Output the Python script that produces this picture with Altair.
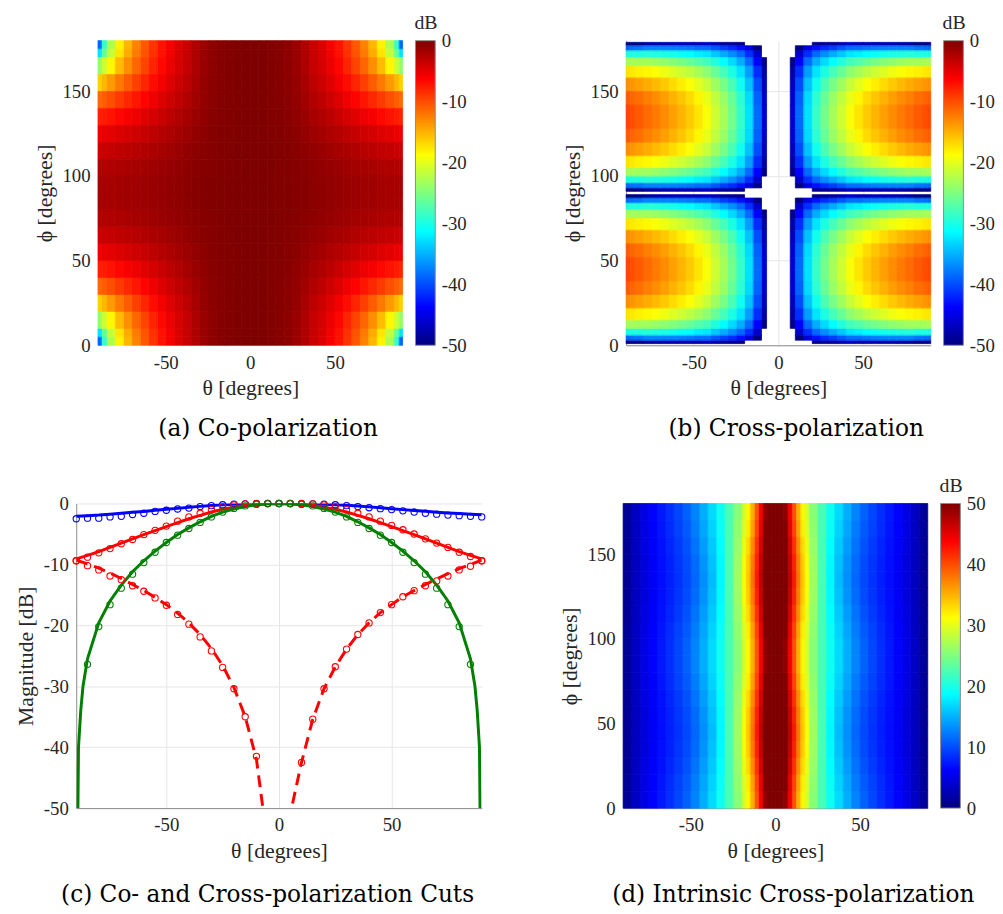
import altair as alt
import pandas as pd

# MATLAB "jet" colour stops
JET = ["#00007F", "#0000FF", "#007FFF", "#00FFFF", "#7FFF7F",
       "#FFFF00", "#FF7F00", "#FF0000", "#7F0000"]

# ---------------- (a) Co-polarization [dB] ----------------
# values read for one quadrant (0<=theta<=90, 0<=phi<=90); the map is mirror
# symmetric in theta and about phi = 90 deg.
CO_THETA_EDGES = [0, 5, 10, 15, 20, 25, 30, 35, 40, 45, 50, 55, 60, 65, 70, 75, 80, 85, 88, 90]
CO_PHI_EDGES = [0, 5, 10, 20, 30, 40, 50, 60, 70, 80, 90]
CO_DB = [
    [-0.01, -0.05, -0.2, -0.4, -0.75, -1.4, -2.4, -3.6, -4.6, -5.8, -7.2, -8.8, -10.6, -12.7, -15.2, -18.2, -22.8, -28.7, -38.8],
    [-0.01, -0.05, -0.2, -0.39, -0.74, -1.38, -2.36, -3.53, -4.51, -5.69, -7.03, -8.59, -10.33, -12.31, -14.66, -17.46, -21.6, -26.3, -32.6],
    [-0.01, -0.05, -0.19, -0.38, -0.71, -1.32, -2.25, -3.35, -4.28, -5.37, -6.61, -8.02, -9.56, -11.28, -13.23, -15.46, -18.4, -21.25, -24.1],
    [-0.01, -0.05, -0.18, -0.35, -0.65, -1.19, -2.0, -2.97, -3.77, -4.69, -5.73, -6.86, -8.06, -9.35, -10.71, -12.17, -13.87, -15.3, -16.5],
    [-0.01, -0.04, -0.16, -0.31, -0.57, -1.02, -1.69, -2.47, -3.14, -3.86, -4.66, -5.51, -6.38, -7.28, -8.17, -9.09, -10.08, -10.85, -11.44],
    [0.0, -0.03, -0.13, -0.26, -0.47, -0.83, -1.34, -1.94, -2.46, -3.0, -3.59, -4.19, -4.8, -5.41, -5.97, -6.56, -7.14, -7.59, -7.92],
    [0.0, -0.03, -0.11, -0.21, -0.38, -0.65, -1.01, -1.44, -1.84, -2.23, -2.64, -3.05, -3.46, -3.87, -4.22, -4.6, -4.95, -5.23, -5.41],
    [0.0, -0.02, -0.09, -0.17, -0.3, -0.49, -0.72, -1.02, -1.33, -1.59, -1.88, -2.16, -2.43, -2.71, -2.92, -3.18, -3.4, -3.58, -3.69],
    [0.0, -0.02, -0.07, -0.14, -0.24, -0.37, -0.52, -0.72, -0.96, -1.15, -1.35, -1.55, -1.74, -1.94, -2.07, -2.25, -2.4, -2.52, -2.6],
    [0.0, -0.02, -0.06, -0.12, -0.2, -0.3, -0.41, -0.57, -0.78, -0.93, -1.09, -1.25, -1.41, -1.57, -1.68, -1.84, -1.95, -2.01, -2.07],
]

# ---------------- (b) Cross-polarization [dB] ----------------
# one eighth (0<=theta<=90, 0<=phi<=45) read; each lobe is symmetric about
# phi = 45 / 135.  None = below -50 dB (left blank).
XP_THETA_EDGES = [7, 10, 15, 20, 25, 30, 35, 40, 45, 50, 55, 60, 65, 70, 75, 80, 85, 88, 90]
XP_PHI_EDGES = [1, 3, 6, 10, 15, 22, 30, 38, 45]
XP_DB = [
    [None, None, None, -49.3, -48.6, -48.4, -47.6, -46.7, -47.4, -47.3, -47.3, -47.5, -47.7, -48.0, -48.4, -49.5, -49.5, -49.5],
    [None, -49.8, -45.4, -43.0, -41.6, -40.7, -39.5, -38.3, -38.3, -37.8, -37.5, -37.3, -37.2, -37.2, -37.2, -38.0, -38.2, -38.6],
    [None, -46.3, -41.5, -38.6, -36.7, -35.3, -33.9, -32.4, -32.0, -31.2, -30.7, -30.2, -29.8, -29.6, -29.3, -29.6, -29.6, -29.8],
    [-49.75, -43.75, -38.5, -35.25, -33.0, -31.25, -29.6, -28.0, -27.15, -26.2, -25.5, -24.9, -24.25, -23.8, -23.4, -23.35, -23.1, -23.1],
    [-48.2, -41.6, -36.0, -32.5, -29.9, -27.8, -26.1, -24.3, -23.1, -22.0, -21.2, -20.4, -19.6, -19.0, -18.4, -18.1, -17.7, -17.5],
    [-47.0, -40.0, -34.2, -30.4, -27.6, -25.3, -23.4, -21.5, -20.1, -18.9, -17.9, -17.0, -16.1, -15.4, -14.7, -14.1, -13.6, -13.3],
    [-46.3, -39.0, -33.0, -29.1, -26.2, -23.7, -21.8, -19.8, -18.3, -17.0, -15.9, -15.0, -14.0, -13.2, -12.5, -11.7, -11.2, -10.8],
    [-46.1, -38.6, -32.6, -28.6, -25.6, -23.1, -21.1, -19.1, -17.5, -16.2, -15.1, -14.1, -13.1, -12.3, -11.5, -10.7, -10.1, -9.7],
]

# ---------------- (d) Intrinsic cross-polarization [dB] ----------------
IX_THETA_EDGES = [0, 2.5, 5, 7.5, 10, 12.5, 15, 17.5, 20, 25, 30, 35, 40, 45, 50, 55, 60, 65, 70, 75, 80, 85, 90]
IX_PHI_EDGES = [0, 10, 20, 30, 40, 50, 60, 70, 80, 90]
IX_DB = [
    [60, 58, 49.1, 44.1, 39.6, 35.1, 31.6, 29.1, 25.5, 22.3, 19.4, 17.0, 14.8, 12.8, 11.0, 9.7, 8.5, 7.4, 6.3, 5.0, 3.4, 1.3],
    [60.8, 58.8, 49.8, 44.8, 40.3, 35.8, 32.1, 29.5, 25.8, 22.3, 19.2, 16.6, 14.4, 12.4, 10.7, 9.5, 8.3, 7.3, 6.2, 4.9, 3.3, 1.3],
    [61.8, 59.8, 50.8, 45.8, 41.3, 36.8, 33.0, 30.2, 26.1, 22.3, 18.8, 16.1, 13.9, 11.9, 10.3, 9.1, 8.0, 7.0, 6.0, 4.8, 3.2, 1.2],
    [62.6, 60.6, 51.6, 46.6, 42.1, 37.6, 33.7, 30.8, 26.4, 22.3, 18.5, 15.7, 13.5, 11.5, 9.9, 8.8, 7.8, 6.9, 5.9, 4.6, 3.1, 1.2],
    [63, 61, 52, 47, 42.5, 38, 34, 31, 26.5, 22.3, 18.4, 15.5, 13.3, 11.3, 9.8, 8.7, 7.7, 6.8, 5.8, 4.6, 3.1, 1.2],
    [62.6, 60.6, 51.6, 46.6, 42.1, 37.6, 33.7, 30.8, 26.4, 22.3, 18.5, 15.7, 13.5, 11.5, 9.9, 8.8, 7.8, 6.9, 5.9, 4.6, 3.1, 1.2],
    [61.8, 59.8, 50.8, 45.8, 41.3, 36.8, 33.0, 30.2, 26.1, 22.3, 18.8, 16.1, 13.9, 11.9, 10.3, 9.1, 8.0, 7.0, 6.0, 4.8, 3.2, 1.2],
    [60.8, 58.8, 49.8, 44.8, 40.3, 35.8, 32.1, 29.5, 25.8, 22.3, 19.2, 16.6, 14.4, 12.4, 10.7, 9.5, 8.3, 7.3, 6.2, 4.9, 3.3, 1.3],
    [60, 58, 49.1, 44.1, 39.6, 35.1, 31.6, 29.1, 25.5, 22.3, 19.4, 17.0, 14.8, 12.8, 11.0, 9.7, 8.5, 7.4, 6.3, 5.0, 3.4, 1.3],
]

# colour-bar limits and tick labels
CB_NEG = [-50, 0]
CB_NEG_TICKS = [-50, -40, -30, -20, -10, 0]
CB_POS = [0, 50]
CB_POS_TICKS = [0, 10, 20, 30, 40, 50]

# ---------------- (c) cuts [dB] ----------------
THETA_CUT = [-90, -85, -80, -75, -70, -65, -60, -55, -50, -45, -40, -35, -30, -25, -20, -15, -10, -5, 0,
             5, 10, 15, 20, 25, 30, 35, 40, 45, 50, 55, 60, 65, 70, 75, 80, 85, 90]
BLUE_LINE = [-2.1, -2.0, -1.9, -1.75, -1.6, -1.45, -1.3, -1.1, -0.95, -0.8, -0.62, -0.47, -0.33, -0.22, -0.13, -0.07, -0.03, -0.01, 0,
             -0.01, -0.03, -0.06, -0.12, -0.2, -0.3, -0.42, -0.55, -0.7, -0.85, -1.0, -1.15, -1.28, -1.42, -1.55, -1.65, -1.75, -1.85]
BLUE_MARK = [-2.5, -2.4, -2.4, -2.2, -2.1, -1.8, -1.6, -1.3, -1.1, -0.9, -0.75, -0.5, -0.35, -0.2, -0.1, -0.05, -0.02, 0, 0,
             0, -0.02, -0.05, -0.1, -0.2, -0.35, -0.5, -0.7, -0.85, -1.0, -1.2, -1.4, -1.6, -1.75, -1.9, -2.0, -2.1, -2.2]
RED_LINE = [-9.1, -8.5, -7.9, -7.2, -6.5, -5.8, -5.1, -4.45, -3.8, -3.15, -2.5, -1.95, -1.4, -0.95, -0.6, -0.3, -0.12, -0.03, 0,
            -0.03, -0.12, -0.3, -0.6, -0.95, -1.4, -1.95, -2.5, -3.15, -3.8, -4.45, -5.1, -5.8, -6.5, -7.2, -7.9, -8.5, -9.1]
RED_MARK = [-9.4, -8.8, -8.1, -7.4, -6.6, -5.9, -5.1, -4.4, -3.7, -2.9, -2.2, -1.6, -1.0, -0.5, -0.2, -0.05, 0, 0, 0,
            0, 0, -0.05, -0.2, -0.5, -1.0, -1.6, -2.2, -2.9, -3.6, -4.3, -5.0, -5.8, -6.5, -7.2, -8.0, -8.7, -9.4]
DASH_LINE = [-9.3, -9.9, -10.6, -11.4, -12.3, -13.3, -14.3, -15.4, -16.6, -18.0, -19.6, -21.5, -23.8, -26.6, -30.2, -35.0, -42.0, -56.0, -90.0,
             -51.0, -42.5, -35.4, -30.4, -26.8, -23.9, -21.5, -19.6, -17.9, -16.6, -15.3, -14.3, -13.3, -12.4, -11.5, -10.7, -10.0, -9.3]
DASH_MARK = [-9.4, -10.2, -10.9, -11.9, -12.5, -13.5, -14.4, -15.5, -16.7, -18.2, -19.8, -21.9, -24.2, -26.9, -30.4, -35.0, -41.5, None, None,
             None, -42.5, -35.4, -30.4, -26.8, -23.9, -21.5, -19.6, -17.9, -16.6, -15.3, -14.3, -13.5, -12.7, -11.9, -10.9, -10.3, -9.4]
THETA_GREEN_LINE = [-90, -89, -88, -87, -85, -80, -75, -70, -65, -60, -55, -50, -45, -40, -35, -30, -25, -20, -15, -10, -5, 0,
                    5, 10, 15, 20, 25, 30, 35, 40, 45, 50, 55, 60, 65, 70, 75, 80, 85, 87, 88, 89, 90]
GREEN_LINE = [-80, -40, -34, -30, -25.5, -19.6, -16.0, -13.4, -11.2, -9.4, -7.8, -6.4, -5.1, -4.0, -3.0, -2.1, -1.4, -0.9, -0.5, -0.2, -0.05, 0,
              -0.05, -0.2, -0.5, -0.9, -1.4, -2.1, -3.0, -4.0, -5.1, -6.4, -7.8, -9.4, -11.2, -13.4, -16.0, -19.6, -25.5, -30, -34, -40, -80]
THETA_GREEN_MARK = THETA_CUT[1:-1]
GREEN_MARK = [-26.4, -20.2, -16.6, -13.9, -11.6, -9.7, -8.0, -6.4, -5.2, -4.1, -3.1, -2.2, -1.4, -0.8, -0.4, -0.15, -0.03, 0,
              -0.03, -0.15, -0.4, -0.8, -1.4, -2.2, -3.1, -4.1, -5.2, -6.4, -8.0, -9.7, -11.6, -13.9, -16.6, -20.2, -26.4]

FONT = "'Liberation Serif', 'Times New Roman', serif"
CAP_FONT = "'DejaVu Serif', serif"
LABEL_EXPR = "'' + datum.value"
INK = "#262626"


def cells(theta_edges, phi_edges, rows, mirror45=False):
    recs = []
    for i, row in enumerate(rows):
        p0, p1 = phi_edges[i], phi_edges[i + 1]
        pbins = [(p0, p1)] + ([(90 - p1, 90 - p0)] if mirror45 else [])
        for j, v in enumerate(row):
            if v is None:
                continue
            t0, t1 = theta_edges[j], theta_edges[j + 1]
            for a0, a1 in ((t0, t1), (-t1, -t0)):
                for b0, b1 in pbins:
                    for c0, c1 in ((b0, b1), (180 - b1, 180 - b0)):
                        recs.append({"t0": a0, "t1": a1, "p0": c0, "p1": c1, "v": v, "edge": v})
    return pd.DataFrame(recs)


JET_GRADIENT = alt.LinearGradient(
    gradient="linear", x1=0, x2=0, y1=1, y2=0,
    stops=[alt.GradientStop(color=c, offset=i / (len(JET) - 1)) for i, c in enumerate(JET)])


def heat_panel(table, cb_lim, cb_ticks, caption, width, x_range, y_offset,
               cb_x, cap_dx, cap_offset, grid):
    lo, hi = cb_lim
    stops = [lo + (hi - lo) * i / (len(JET) - 1) for i in range(len(JET))]
    cscale = alt.Scale(domain=stops, range=JET, clamp=True, interpolate="rgb")
    xs = dict(domain=[-90, 90], nice=False, zero=False)
    if x_range:
        xs["range"] = x_range
    X = alt.X("t0:Q", scale=alt.Scale(**xs),
              axis=alt.Axis(values=[-50, 0, 50], title="θ [degrees]", grid=grid,
                            domain=grid, labelExpr=LABEL_EXPR))
    Y = alt.Y("p0:Q", scale=alt.Scale(domain=[0, 180], nice=False, zero=False),
              axis=alt.Axis(values=[0, 50, 100, 150], title="ϕ [degrees]", grid=grid,
                            domain=grid, offset=y_offset, labelExpr=LABEL_EXPR))
    base = alt.Chart(table)
    fill_layer = base.mark_rect().encode(
        x=X, x2="t1:Q", y=Y, y2="p1:Q",
        fill=alt.Fill("v:Q", scale=cscale, legend=None))
    # thin outline of every cell in its own colour, hiding anti-aliasing seams
    edge_layer = base.mark_rect(filled=False, strokeWidth=0.8).encode(
        x=X, x2="t1:Q", y=Y, y2="p1:Q",
        stroke=alt.Stroke("edge:Q", scale=cscale, legend=None))
    heat = alt.layer(fill_layer, edge_layer)

    cb_df = pd.DataFrame({"lo": [lo], "hi": [hi]})
    bar = alt.Chart(cb_df).mark_rect(fill=JET_GRADIENT, stroke="#8c8c8c", strokeWidth=1).encode(
        x=alt.value(cb_x), x2=alt.value(cb_x + 20),
        y=alt.Y("lo:Q", scale=alt.Scale(domain=[lo, hi], nice=False, zero=False),
                axis=alt.Axis(orient="right", offset=cb_x + 20 - width, values=cb_ticks,
                              title=None, grid=False, domain=False, ticks=False,
                              labelPadding=6, labelExpr=LABEL_EXPR)),
        y2="hi:Q")
    unit = alt.Chart(cb_df).mark_text(text="dB", align="left", baseline="middle", font=FONT,
                                      fontSize=20, color=INK).encode(
        x=alt.value(cb_x - 1), y=alt.value(-18))
    return alt.layer(heat, bar, unit).resolve_scale(y="independent").properties(
        width=width, height=308,
        title=alt.TitleParams(caption, orient="bottom", anchor="middle",
                              frame="group", offset=cap_offset, dx=cap_dx))


panel_a = heat_panel(cells(CO_THETA_EDGES, CO_PHI_EDGES, CO_DB), CB_NEG, CB_NEG_TICKS,
                     "(a) Co-polarization", 330, [22, 330], -22, 343, 29, 19, False)
panel_b = heat_panel(cells(XP_THETA_EDGES, XP_PHI_EDGES, XP_DB, mirror45=True), CB_NEG,
                     CB_NEG_TICKS, "(b) Cross-polarization", 308, None, 0, 321, 18, 19, True)
panel_d = heat_panel(cells(IX_THETA_EDGES, IX_PHI_EDGES, IX_DB), CB_POS, CB_POS_TICKS,
                     "(d) Intrinsic Cross-polarization", 308, None, 0, 321, 18, 22, True)

# ---------------- (c) line chart ----------------
xc = alt.X("theta:Q", scale=alt.Scale(domain=[-90, 90], nice=False, zero=False),
           axis=alt.Axis(values=[-50, 0, 50], title="θ [degrees]", grid=True, labelExpr=LABEL_EXPR))
yc = alt.Y("mag:Q", scale=alt.Scale(domain=[-50, 0], nice=False, zero=False),
           axis=alt.Axis(values=[-50, -40, -30, -20, -10, 0], title="Magnitude [dB]",
                         grid=True, labelExpr=LABEL_EXPR))


def line(thetas, vals, color, dash=None):
    df = pd.DataFrame({"theta": thetas, "mag": vals})
    kw = dict(color=color, strokeWidth=3, clip=True, strokeCap="butt")
    if dash:
        kw["strokeDash"] = dash
    return alt.Chart(df).mark_line(**kw).encode(x=xc, y=yc)


def markers(thetas, vals, color):
    df = pd.DataFrame({"theta": thetas, "mag": vals}).dropna()
    return alt.Chart(df).mark_point(shape="circle", filled=False, size=40, strokeWidth=1.1,
                                    color=color, opacity=1).encode(x=xc, y=yc)


BLUE, RED, GREEN = "#0000FF", "#FF0000", "#008000"
panel_c = alt.layer(
    line(THETA_CUT, BLUE_LINE, BLUE),
    line(THETA_CUT, RED_LINE, RED),
    line(THETA_CUT, DASH_LINE, RED, dash=[12, 7]),
    line(THETA_GREEN_LINE, GREEN_LINE, GREEN),
    markers(THETA_CUT, BLUE_MARK, BLUE),
    markers(THETA_CUT, RED_MARK, RED),
    markers(THETA_CUT, DASH_MARK, RED),
    markers(THETA_GREEN_MARK, GREEN_MARK, GREEN),
).properties(width=410, height=308,
             title=alt.TitleParams("(c) Co- and Cross-polarization Cuts", orient="bottom",
                                   anchor="middle", frame="group", offset=22, dx=-11.5))


def indep(c):
    return c.resolve_scale(fill="independent", stroke="independent")


row1 = indep(alt.hconcat(panel_a, panel_b, spacing=95))
row2 = indep(alt.hconcat(panel_c, panel_d, spacing=71))

chart = indep(alt.vconcat(row1, row2, spacing=35)).properties(
    padding={"left": 6, "top": 0, "right": 0, "bottom": 0}
).configure_view(stroke=None).configure_axis(
    labelFont=FONT, labelFontSize=19, labelColor=INK,
    titleFont=FONT, titleFontSize=22, titleFontWeight="normal", titleColor=INK,
    domainColor="#8c8c8c", gridColor="#e6e6e6", ticks=False,
    labelPadding=8, titlePadding=6,
).configure_title(font=CAP_FONT, fontSize=23.5, fontWeight="normal", color="#000000")

chart.save("out.html", embed_options={"renderer": "svg", "actions": False})
